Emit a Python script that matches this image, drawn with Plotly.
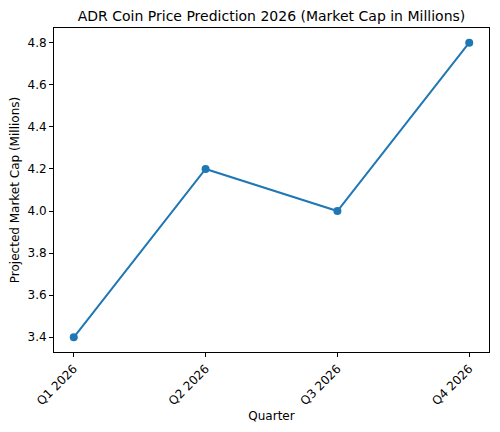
import plotly.graph_objects as go

# Quarterly projected market cap (millions)
quarters = ['Q1 2026', 'Q2 2026', 'Q3 2026', 'Q4 2026']
market_cap = [3.4, 4.2, 4.0, 4.8]
y_ticks = [3.4, 3.6, 3.8, 4.0, 4.2, 4.4, 4.6, 4.8]

trace = go.Scatter(x=quarters, y=market_cap, mode='lines+markers',
                   line=dict(color='#1f77b4', width=2),
                   marker=dict(color='#1f77b4', size=8))

axis_style = dict(showline=True, mirror=True, linecolor='black', linewidth=1,
                  ticks='outside', ticklen=4, tickcolor='black',
                  showgrid=False, zeroline=False, automargin=False,
                  tickfont=dict(family='DejaVu Sans', size=12, color='black'))

# page body adds an 8px margin, so the figure is a bit smaller than the window
layout = go.Layout(
    width=492, height=424,
    paper_bgcolor='white', plot_bgcolor='white',
    margin=dict(l=46, r=11, t=20, b=80),
    showlegend=False,
    title=dict(text='ADR Coin Price Prediction 2026 (Market Cap in Millions)',
               xref='paper', x=0.5, xanchor='center',
               yref='container', y=0.981, yanchor='middle',
               font=dict(family='DejaVu Sans', size=14, color='black')),
    xaxis=dict(axis_style, type='category', range=[-0.15, 3.15], tickangle=-45,
               title=dict(text='Quarter', standoff=4,
                          font=dict(family='DejaVu Sans', size=12, color='black'))),
    yaxis=dict(axis_style, range=[3.33, 4.87], tickvals=y_ticks, tickformat='.1f',
               title=dict(text='Projected Market Cap (Millions)', standoff=10,
                          font=dict(family='DejaVu Sans', size=12, color='black'))),
)

fig = go.Figure(data=[trace], layout=layout)
fig.write_html('out.html')
